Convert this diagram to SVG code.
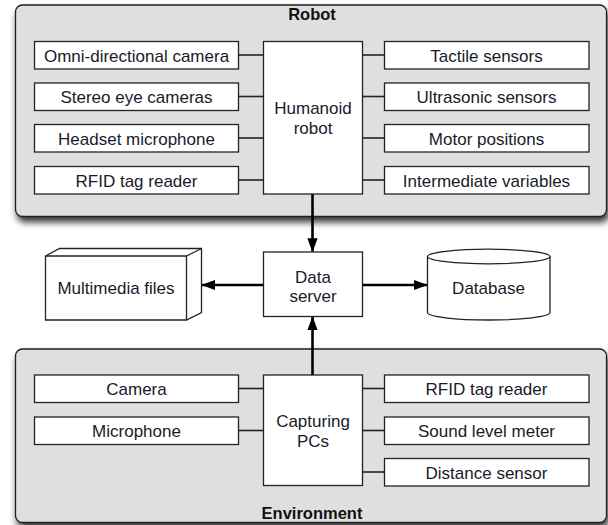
<svg xmlns="http://www.w3.org/2000/svg" width="608" height="525" viewBox="0 0 608 525">
<defs>
<filter id="sh" x="-5%" y="-10%" width="112%" height="125%">
<feDropShadow dx="2" dy="5" stdDeviation="3.5" flood-color="#000" flood-opacity="0.8"/>
</filter>
<marker id="ah" markerWidth="14" markerHeight="19" refX="18" refY="7" viewBox="0 0 19 14" orient="auto" markerUnits="userSpaceOnUse">
<path d="M0,0 L19,7 L0,14 Z" fill="#000"/>
</marker>
</defs>
<style>
.cont{fill:#dfdfdf;stroke:#222;stroke-width:1.3}
.box{fill:#fff;stroke:#222;stroke-width:1.3}
.t{font-family:"Liberation Sans",Arial,sans-serif;font-size:17px;fill:#1a1a2a;text-anchor:middle}
.tb{font-family:"Liberation Sans",Arial,sans-serif;font-size:16.5px;font-weight:bold;fill:#111;text-anchor:middle}
.ln{stroke:#222;stroke-width:1.6;fill:none}
.ar{stroke:#000;stroke-width:2.6;fill:none}
</style>

<g id="robot">
<rect class="cont" x="15.5" y="5" width="591" height="211.5" rx="7" filter="url(#sh)"/>
<text class="tb" x="312" y="20">Robot</text>
</g>
<g id="environment">
<rect class="cont" x="15.5" y="349" width="591" height="173.5" rx="7" filter="url(#sh)"/>
<text class="tb" x="312" y="519">Environment</text>
</g>

<g id="connectors">
<line class="ln" x1="238.5" y1="55" x2="263.5" y2="55"/>
<line class="ln" x1="238.5" y1="96.5" x2="263.5" y2="96.5"/>
<line class="ln" x1="238.5" y1="138" x2="263.5" y2="138"/>
<line class="ln" x1="238.5" y1="180" x2="263.5" y2="180"/>
<line class="ln" x1="362.5" y1="55" x2="384.5" y2="55"/>
<line class="ln" x1="362.5" y1="96.5" x2="384.5" y2="96.5"/>
<line class="ln" x1="362.5" y1="138" x2="384.5" y2="138"/>
<line class="ln" x1="362.5" y1="180" x2="384.5" y2="180"/>
<line class="ln" x1="238.5" y1="388.5" x2="263.5" y2="388.5"/>
<line class="ln" x1="238.5" y1="430.5" x2="263.5" y2="430.5"/>
<line class="ln" x1="362.5" y1="388.5" x2="384.5" y2="388.5"/>
<line class="ln" x1="362.5" y1="430.5" x2="384.5" y2="430.5"/>
<line class="ln" x1="362.5" y1="472" x2="384.5" y2="472"/>
<line class="ar" x1="312.5" y1="194" x2="312.5" y2="251.5" marker-end="url(#ah)"/>
<line class="ar" x1="312.5" y1="375" x2="312.5" y2="317" marker-end="url(#ah)"/>
<line class="ar" x1="263" y1="285" x2="202" y2="285" marker-end="url(#ah)"/>
<line class="ar" x1="362.5" y1="285" x2="427" y2="285" marker-end="url(#ah)"/>
</g>

<g id="omni"><rect class="box" x="34.5" y="41.5" width="204" height="27.5"/><text class="t" x="136.5" y="61.5">Omni-directional camera</text></g>
<g id="stereo"><rect class="box" x="34.5" y="83" width="204" height="27.5"/><text class="t" x="136.5" y="103">Stereo eye cameras</text></g>
<g id="headset"><rect class="box" x="34.5" y="124.5" width="204" height="27.5"/><text class="t" x="136.5" y="144.5">Headset microphone</text></g>
<g id="rfid-robot"><rect class="box" x="34.5" y="166.5" width="204" height="27.5"/><text class="t" x="136.5" y="186.5">RFID tag reader</text></g>

<g id="humanoid"><rect class="box" x="263.5" y="41.5" width="99" height="152.5"/><text class="t" x="313" y="114">Humanoid</text><text class="t" x="313" y="134">robot</text></g>

<g id="tactile"><rect class="box" x="384.5" y="41.5" width="204.5" height="27.5"/><text class="t" x="486.5" y="61.5">Tactile sensors</text></g>
<g id="ultrasonic"><rect class="box" x="384.5" y="83" width="204.5" height="27.5"/><text class="t" x="486.5" y="103">Ultrasonic sensors</text></g>
<g id="motor"><rect class="box" x="384.5" y="124.5" width="204.5" height="27.5"/><text class="t" x="486.5" y="144.5">Motor positions</text></g>
<g id="intermediate"><rect class="box" x="384.5" y="166.5" width="204.5" height="27.5"/><text class="t" x="486.5" y="186.5">Intermediate variables</text></g>

<g id="dataserver"><rect class="box" x="263.5" y="252" width="99" height="64.5"/><text class="t" x="313" y="283">Data</text><text class="t" x="313" y="302">server</text></g>

<g id="multimedia">
<path class="box" d="M45.5,256 L59.5,248.5 L201.5,248.5 L201.5,312.5 L186.5,320 L45.5,320 Z"/>
<path class="ln" style="stroke-width:1.3" d="M45.5,256 L186.5,256 L186.5,320 M186.5,256 L201.5,248.5"/>
<text class="t" x="116" y="294">Multimedia files</text>
</g>

<g id="database">
<path class="box" d="M427.5,256.5 L427.5,312.5 A61.25,7.5 0 0 0 550,312.5 L550,256.5"/>
<ellipse class="box" cx="488.75" cy="256.5" rx="61.25" ry="7.3"/>
<text class="t" x="488.5" y="294">Database</text>
</g>

<g id="camera"><rect class="box" x="34.5" y="375" width="204" height="27.5"/><text class="t" x="136.5" y="395">Camera</text></g>
<g id="microphone"><rect class="box" x="34.5" y="417" width="204" height="27.5"/><text class="t" x="136.5" y="437">Microphone</text></g>
<g id="capturing"><rect class="box" x="263.5" y="375" width="99" height="110.5"/><text class="t" x="313" y="427">Capturing</text><text class="t" x="313" y="447">PCs</text></g>
<g id="rfid-env"><rect class="box" x="384.5" y="375" width="204.5" height="27.5"/><text class="t" x="486.5" y="395">RFID tag reader</text></g>
<g id="sound"><rect class="box" x="384.5" y="417" width="204.5" height="27.5"/><text class="t" x="486.5" y="437">Sound level meter</text></g>
<g id="distance"><rect class="box" x="384.5" y="458.5" width="204.5" height="27.5"/><text class="t" x="486.5" y="478.5">Distance sensor</text></g>
</svg>
